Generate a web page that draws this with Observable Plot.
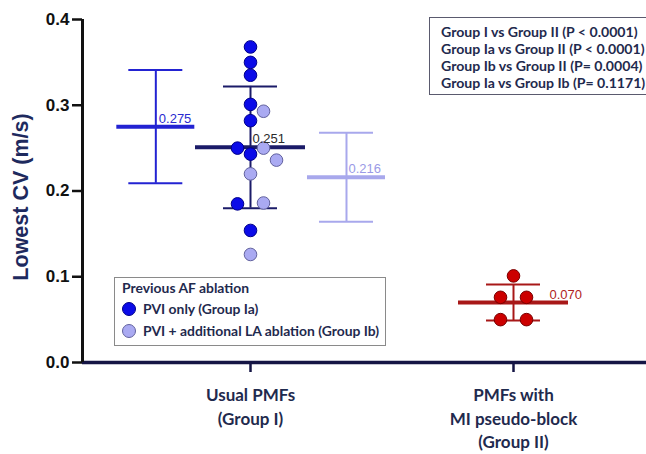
<!DOCTYPE html>
<html>
<head>
<meta charset="utf-8">
<script src="https://cdn.jsdelivr.net/npm/d3@7"></script>
<script src="https://cdn.jsdelivr.net/npm/@observablehq/plot@0.6"></script>
<style>
  html, body { margin: 0; padding: 0; background: #fff; }
  #wrap { position: relative; width: 646px; height: 454px; overflow: hidden; }
  .box { position: absolute; box-sizing: border-box; background: #fff; white-space: nowrap;
         font-family: Lato, "Open Sans", sans-serif; font-weight: 700; color: #1f2a4e; }
  #stats { left: 429px; top: 17px; width: 230px; height: 78px; border: 1px solid #5a5a6e;
           padding: 5px 0 0 11px; font-size: 14.1px; line-height: 17px; }
  #legend { left: 114px; top: 277px; width: 272px; height: 69px; border: 1px solid #8a8a8a;
            padding: 0 0 0 7px; font-size: 13.9px; line-height: 22px; }
  #legend .ttl { line-height: 20px; }
  #legend .item { display: flex; align-items: center; }
  #legend .sw { width: 14px; height: 14px; border-radius: 50%; box-sizing: border-box;
                margin-right: 7px; border: 1px solid; flex: none; }
</style>
</head>
<body>
<div id="wrap"></div>
<script>
// Lowest conduction velocity per patient (m/s)
const groupIaValues = [0.368, 0.350, 0.335, 0.301, 0.282, 0.250, 0.243, 0.185, 0.154];
const groupIbValues = [0.293, 0.250, 0.236, 0.220, 0.186, 0.126];
const groupIIValues = [0.101, 0.076, 0.076, 0.050, 0.050];

// Mean ± SD summaries
const summaryGroups = ["Ia", "I", "Ib", "II"];
const summaryMeans  = [0.275, 0.251, 0.216, 0.070];
const summarySDs    = [0.066, 0.071, 0.052, 0.021];

// Axis text
const categoryLabels = ["Usual PMFs\n(Group I)", "PMFs with\nMI pseudo-block\n(Group II)"];
const yTicks = [0, 0.1, 0.2, 0.3, 0.4];
const yTitle = "Lowest CV (m/s)";
const legendTitle = "Previous AF ablation";
const legendLabels = ["PVI only (Group Ia)", "PVI + additional LA ablation (Group Ib)"];
const statsLines = [
  "Group I vs Group II (P < 0.0001)",
  "Group Ia vs Group II (P < 0.0001)",
  "Group Ib vs Group II (P= 0.0004)",
  "Group Ia vs Group Ib (P= 0.1171)"
];

// ---- layout ----
const W = 646, H = 454;
const mL = 82, mR = 0, mT = 19, mB = 92;
const pxPerX = 263;                         // px between the two category centres
const xDomain = [1 - (250 - mL) / pxPerX, 2 + (W - mR - 513) / pxPerX];
const pxPerY = (H - mB - mT) / 0.4;
const xPos = {Ia: 0.64, I: 1, Ib: 1.365, II: 2};
const meanHalf = {Ia: 39, I: 55, Ib: 39, II: 55};   // px
const capHalf = 27;                                  // px
const labelDx = {Ia: 3, I: 2, Ib: 2, II: 36};        // px
const lineColor = {Ia: "#2323d2", I: "#1b1b68", Ib: "#a8a8ec", II: "#a81818"};
const labelColor = {Ia: "#2a2ad0", I: "#2a2a2a", Ib: "#9a9ae6", II: "#b02222"};
const dotFill = {Ia: "#0b0be8", Ib: "#aaaaf2", II: "#cc0000"};
const dotStroke = {Ia: "#00008a", Ib: "#62629e", II: "#7a0000"};
const R = 6.3, SLOT = 13;

const summary = summaryGroups.map((g, i) => ({group: g, mean: summaryMeans[i], sd: summarySDs[i]}));

// Scatter points, arranged side by side so circles do not overlap
function swarm(points) {
  const sorted = [...points].sort((a, b) => b.value - a.value);
  const placed = [];
  const free = (v, s) => placed.every(p =>
    Math.hypot((p.slot - s) * SLOT, (p.value - v) * pxPerY) >= 2 * R - 0.01);
  let i = 0;
  while (i < sorted.length) {
    const a = sorted[i], b = sorted[i + 1];
    if (b && Math.abs(a.value - b.value) < 0.002) {
      const [lft, rgt] = a.sub === "Ib" ? [b, a] : [a, b];
      for (let k = 1; ; k++) {
        if (free(lft.value, -k) && free(rgt.value, k)) {
          lft.slot = -k; rgt.slot = k; placed.push(lft, rgt); break;
        }
      }
      i += 2;
    } else {
      const pref = a.sub === "Ib" ? 1 : -1;
      for (let k = 0; ; k++) {
        const cands = k === 0 ? [0] : [pref * k, -pref * k];
        const s = cands.find(c => free(a.value, c));
        if (s !== undefined) { a.slot = s; placed.push(a); break; }
      }
      i++;
    }
  }
  return sorted.map(p => ({...p, x: xPos[p.group] + p.slot * SLOT / pxPerX}));
}

const dots = [
  ...swarm([
    ...groupIaValues.map(v => ({group: "I", sub: "Ia", value: v})),
    ...groupIbValues.map(v => ({group: "I", sub: "Ib", value: v}))
  ]),
  ...swarm(groupIIValues.map(v => ({group: "II", sub: "II", value: v})))
];

const navy = "#151545";
const px = (d, p) => xPos[d.group] + p / pxPerX;

const chart = Plot.plot({
  width: W, height: H,
  marginLeft: mL, marginRight: mR, marginTop: mT, marginBottom: mB,
  style: {background: "transparent", overflow: "visible"},
  x: {type: "linear", domain: xDomain},
  y: {domain: [0, 0.4]},
  marks: [
    // error bars and caps
    Plot.ruleX(summary, {x: d => xPos[d.group], y1: d => d.mean - d.sd, y2: d => d.mean + d.sd,
      stroke: d => lineColor[d.group], strokeWidth: 2}),
    Plot.ruleY(summary, {y: d => d.mean + d.sd, x1: d => px(d, -capHalf), x2: d => px(d, capHalf),
      stroke: d => lineColor[d.group], strokeWidth: 2}),
    Plot.ruleY(summary, {y: d => d.mean - d.sd, x1: d => px(d, -capHalf), x2: d => px(d, capHalf),
      stroke: d => lineColor[d.group], strokeWidth: 2}),
    // mean lines
    Plot.ruleY(summary, {y: "mean", x1: d => px(d, -meanHalf[d.group]), x2: d => px(d, meanHalf[d.group]),
      stroke: d => lineColor[d.group], strokeWidth: 4}),
    // individual values
    Plot.dot(dots, {x: "x", y: "value", r: R,
      fill: d => dotFill[d.sub], stroke: d => dotStroke[d.sub], strokeWidth: 1}),
    // mean labels
    Plot.text(summary, {x: d => px(d, labelDx[d.group]), y: "mean", text: d => d.mean.toFixed(3),
      dy: -8, textAnchor: "start", lineAnchor: "middle",
      fill: d => labelColor[d.group], fontSize: 13, fontFamily: "Liberation Sans, Arial, sans-serif"}),
    // axes
    Plot.ruleY([0], {stroke: navy, strokeWidth: 3.5}),
    Plot.ruleX([xDomain[0]], {y1: 0, y2: 0.4, stroke: "#111", strokeWidth: 3}),
    Plot.axisY({ticks: yTicks, tickFormat: d3.format(".1f"), tickSize: 10, tickPadding: 3,
      strokeWidth: 2.5, stroke: "#111", color: "#111",
      fontSize: 17, fontWeight: "bold", fontFamily: "Liberation Sans, Arial, sans-serif", label: null}),
    Plot.axisX({ticks: [1, 2], tickFormat: d => categoryLabels[d - 1], tickSize: 10, tickPadding: 12,
      strokeWidth: 2.5, stroke: navy, color: "#1f2a4e", lineHeight: 1.38,
      fontSize: 17, fontWeight: "bold", fontFamily: "Lato, Open Sans, sans-serif", label: null}),
    Plot.text([yTitle], {frameAnchor: "left", textAnchor: "middle", lineAnchor: "middle",
      rotate: -90, dx: -61, dy: 6,
      fontSize: 21.5, fontWeight: "bold", fill: "#1e2a5e", fontFamily: "Liberation Sans, Arial, sans-serif"})
  ]
});

const wrap = document.getElementById("wrap");
wrap.appendChild(chart);

// p-value box
const stats = document.createElement("div");
stats.id = "stats"; stats.className = "box";
stats.innerHTML = statsLines.map(s => `<div>${s}</div>`).join("");
wrap.appendChild(stats);

// subgroup legend
const legend = document.createElement("div");
legend.id = "legend"; legend.className = "box";
legend.innerHTML = `<div class="ttl">${legendTitle}</div>` + legendLabels.map((s, i) => {
  const k = i === 0 ? "Ia" : "Ib";
  return `<div class="item"><span class="sw" style="background:${dotFill[k]};border-color:${dotStroke[k]}"></span>${s}</div>`;
}).join("");
wrap.appendChild(legend);
</script>
</body>
</html>
